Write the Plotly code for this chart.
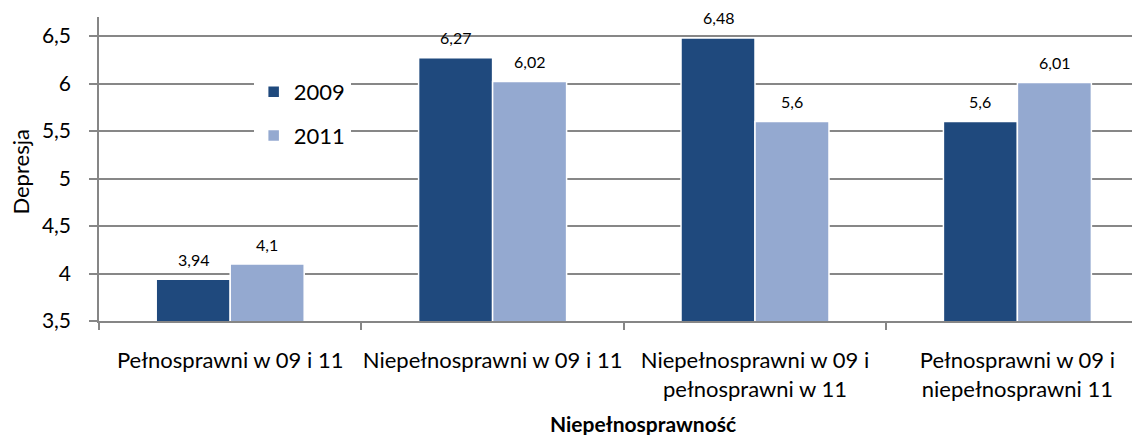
import plotly.graph_objects as go

categories = [
    "Pełnosprawni w 09 i 11",
    "Niepełnosprawni w 09 i 11",
    "Niepełnosprawni w 09 i<br>pełnosprawni w 11",
    "Pełnosprawni w 09 i<br>niepełnosprawni 11",
]
series_names = ["2009", "2011"]
values_2009 = [3.94, 6.27, 6.48, 5.6]
values_2011 = [4.1, 6.02, 5.6, 6.01]
y_ticks = [3.5, 4, 4.5, 5, 5.5, 6, 6.5]
y_title = "Depresja"
x_title = "Niepełnosprawność"

colors = ["#1F497D", "#94A9D0"]
FONT = "Lato, 'Open Sans', 'DejaVu Sans', sans-serif"


def fmt(v):
    return f"{v:g}".replace(".", ",")


# the page body adds an 8 px offset; figure sized to fill the rest of the window
OFF = 8
W, H = 1140 - OFF, 435 - OFF
L_PX, T_PX, B_PX = 99.4 - OFF, 17 - OFF, 321 - OFF
cat_w = 262.3
plot_w = W - L_PX
plot_h = B_PX - T_PX


def px_x(px):
    return (px - OFF - L_PX) / plot_w


def px_y(py):
    return (B_PX - (py - OFF)) / plot_h


fig = go.Figure()
for name, vals, col in zip(series_names, [values_2009, values_2011], colors):
    fig.add_trace(go.Bar(
        x=categories, y=vals, name=name, legendgroup=name,
        marker=dict(color=col, line=dict(color="white", width=1.5)),
    ))

bar_off = 0.141
annotations = []
for k, vals in enumerate([values_2009, values_2011]):
    off = -bar_off if k == 0 else bar_off
    for i, v in enumerate(vals):
        annotations.append(dict(
            x=i + off, y=v, xref="x", yref="y", text=fmt(v), showarrow=False,
            yshift=20, font=dict(family=FONT, size=16, color="#000000"),
        ))

annotations.append(dict(
    x=px_x(20), y=px_y(172), xref="paper", yref="paper",
    text=y_title, textangle=-90, showarrow=False, xanchor="center", yanchor="middle",
    font=dict(family=FONT, size=22, color="#000000"),
))
annotations.append(dict(
    x=px_x(643), y=px_y(423), xref="paper", yref="paper",
    text="<b>" + x_title + "</b>", showarrow=False, xanchor="center", yanchor="middle",
    font=dict(family=FONT, size=21, color="#000000"),
))

fig.update_layout(
    width=W, height=H,
    template="none",
    margin=dict(l=L_PX, r=0, t=T_PX, b=H - B_PX, pad=0),
    paper_bgcolor="white", plot_bgcolor="white",
    barmode="group", bargap=0.436, bargroupgap=0,
    font=dict(family=FONT, color="#000000"),
    showlegend=True,
    legend=dict(
        x=px_x(254), y=px_y(71), xanchor="left", yanchor="top",
        bgcolor="white", borderwidth=0, font=dict(family=FONT, size=22),
        tracegroupgap=12, itemclick=False,
    ),
    annotations=annotations,
)
fig.update_xaxes(
    type="category",
    range=[-0.5, -0.5 + plot_w / cat_w],
    showline=True, linecolor="#868686", linewidth=1.5,
    ticks="outside", tickson="boundaries", ticklen=7, tickcolor="#868686", tickwidth=1.5,
    tickfont=dict(family=FONT, size=22, color="#000000"),
    tickangle=0,
    ticklabelstandoff=19,
    showgrid=False, automargin=False, zeroline=False,
)
fig.update_yaxes(
    range=[3.5, 3.5 + (0.5 / 47.5) * plot_h],
    tickvals=y_ticks, ticktext=[fmt(v) for v in y_ticks],
    showline=True, linecolor="#868686", linewidth=1.5,
    ticks="outside", ticklen=8, tickcolor="#868686", tickwidth=1.5,
    tickfont=dict(family=FONT, size=21, color="#000000"),
    ticklabelstandoff=14,
    showgrid=True, gridcolor="#878787", gridwidth=1.5,
    automargin=False, zeroline=False,
)

fig.write_html("out.html")
